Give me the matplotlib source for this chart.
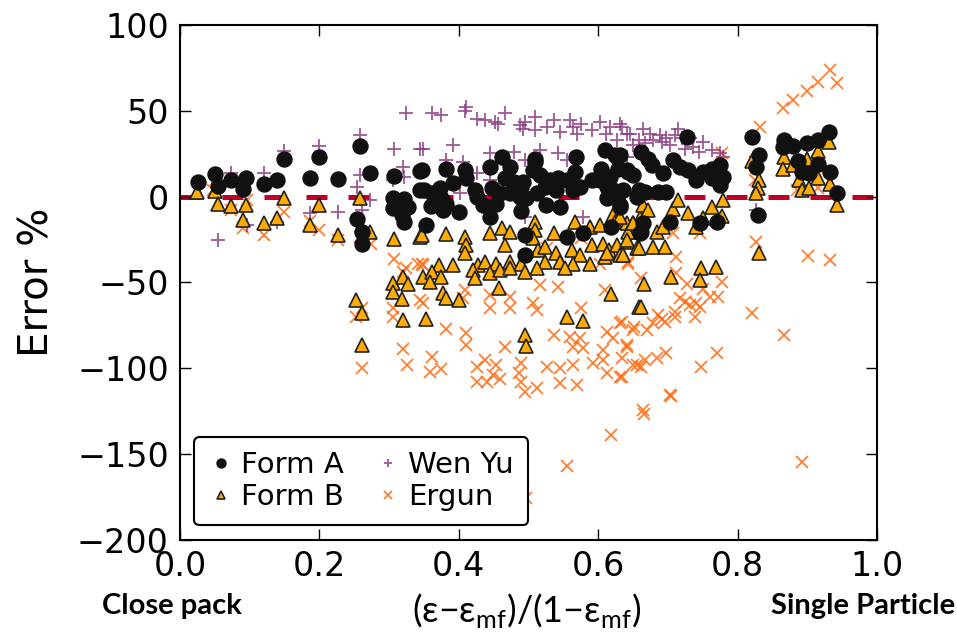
import matplotlib
matplotlib.use('Agg')
import matplotlib.pyplot as plt

# Form A (circles)
form_a_x = [0.026, 0.050, 0.054, 0.073, 0.095, 0.090, 0.121, 0.139, 0.149, 0.187, 0.200, 0.227, 0.258, 0.273,
            0.254, 0.261, 0.261, 0.307, 0.306, 0.321, 0.327, 0.305, 0.319, 0.321, 0.344, 0.344, 0.347, 0.382,
            0.409, 0.411, 0.392, 0.350, 0.373, 0.361, 0.375, 0.382, 0.360, 0.378, 0.401, 0.353, 0.423, 0.426,
            0.435, 0.445, 0.462, 0.473, 0.466, 0.447, 0.459, 0.454, 0.445, 0.479, 0.490, 0.492, 0.473, 0.488,
            0.497, 0.490, 0.509, 0.509, 0.506, 0.517, 0.512, 0.524, 0.525, 0.531, 0.543, 0.540, 0.545, 0.555,
            0.567, 0.562, 0.574, 0.564, 0.568, 0.591, 0.604, 0.610, 0.624, 0.627, 0.603, 0.607, 0.617, 0.612,
            0.622, 0.631, 0.629, 0.643, 0.650, 0.612, 0.631, 0.655, 0.495, 0.495, 0.555, 0.578, 0.619, 0.660,
            0.727, 0.821, 0.831, 0.827, 0.830, 0.867, 0.865, 0.880, 0.899, 0.915, 0.931, 0.887, 0.892, 0.903,
            0.916, 0.933, 0.942, 0.631, 0.641, 0.662, 0.672, 0.677, 0.693, 0.708, 0.717, 0.729, 0.741, 0.751,
            0.763, 0.775, 0.779, 0.763, 0.775, 0.636, 0.658, 0.667, 0.686, 0.698, 0.665, 0.662, 0.703, 0.746,
            0.770, 0.631]
form_a_y = [8.6, 13, 6.3, 9.6, 11, 4.5, 7.3, 9.6, 21.7, 11, 23.4, 10.2, 29.4, 13.5,
            -13, -20.3, -27.8, 12.1, -1, -1.5, -5.9, -6.5, -10.8, -15, 15, 3.8, 15.4, 16.4,
            15.4, 10.6, 8.1, 3.8, 4.8, 1.9, -1, -4, -5.4, -7.9, -8.8, -16.6, 3.8, 0,
            -5, 17.4, 23.2, 17.4, 10.6, 4.8, 1.9, -4, -12.1, 8.6, 5.7, 8.6, 1.9, 0,
            -1, -8.3, 22.2, 20.3, 15.4, 12.5, 1.9, 5.7, -5, 9.6, 10.6, 3.8, -6.3, 9.6,
            14.4, 8.6, 5.7, 3.8, 23.2, 9.6, 16, 27, 24.2, 23.2, 9.6, 10.6, 11.5, 5.7,
            3.8, 2.8, 16, 14.4, 12.5, -1, -5, 0, -22.4, -34, -23.4, -21, -17.6, -21.4,
            34.8, 34.5, 24.2, 17.4, -10.4, 33.3, 28.7, 29.4, 31.3, 32.9, 37.4, 20.9, 14.4, 13.9,
            19.3, 14.1, 1.9, 24.2, 15.4, 26.1, 22.2, 18.3, 13.5, 21.3, 17.4, 15.4, 9.6, 14.4,
            16.4, 18.3, 11.5, 10.6, 6.7, 3.8, 3.8, 2.8, 2.8, 2.8, -15.6, -20.5, -14.7, -15.6,
            -14.7, -5.9]

# Form B (triangles)
form_b_x = [0.025, 0.050, 0.054, 0.073, 0.095, 0.090, 0.121, 0.139, 0.149, 0.187, 0.200, 0.227, 0.258, 0.273,
            0.307, 0.344, 0.253, 0.261, 0.261, 0.306, 0.306, 0.320, 0.327, 0.319, 0.320, 0.347, 0.382, 0.409,
            0.411, 0.409, 0.445, 0.462, 0.473, 0.466, 0.509, 0.509, 0.507, 0.536, 0.514, 0.524, 0.540, 0.562,
            0.574, 0.567, 0.588, 0.603, 0.622, 0.624, 0.650, 0.646, 0.660, 0.591, 0.607, 0.615, 0.627, 0.634,
            0.643, 0.655, 0.371, 0.392, 0.428, 0.438, 0.454, 0.473, 0.490, 0.524, 0.545, 0.564, 0.588, 0.610,
            0.349, 0.361, 0.359, 0.375, 0.378, 0.382, 0.401, 0.353, 0.421, 0.423, 0.445, 0.459, 0.473, 0.495,
            0.512, 0.553, 0.612, 0.631, 0.458, 0.495, 0.497, 0.555, 0.578, 0.619, 0.658, 0.747, 0.769, 0.746,
            0.704, 0.666, 0.662, 0.831, 0.820, 0.831, 0.830, 0.827, 0.867, 0.865, 0.880, 0.899, 0.915, 0.931,
            0.888, 0.892, 0.903, 0.916, 0.933, 0.942, 0.665, 0.672, 0.708, 0.715, 0.729, 0.741, 0.751, 0.763,
            0.779, 0.777, 0.641, 0.643, 0.641, 0.658, 0.679, 0.684, 0.696, 0.650, 0.631, 0.636, 0.693]
form_b_y = [2.8, 3.4, -4, -5.4, -5, -13.7, -15.6, -12.3, -1, -16.6, -4.6, -22.4, -1, -20.5,
            -24.8, -23.4, -60.3, -68, -86.5, -50.5, -55.4, -46.8, -51, -59.7, -71.9, -22.4, -21.8, -23.4,
            -28.2, -33, -21.4, -18.5, -20.5, -28.2, -14.7, -19.5, -24.3, -21.4, -31.2, -29.2, -33, -31.2,
            -34, -14.7, -17.6, -16.6, -10.8, -14.7, -15.6, -20.5, -12.7, -28.2, -27.3, -31.2, -28.2, -33,
            -26.3, -30.2, -40, -40, -40, -38, -39, -38, -39, -38, -38, -39, -39, -35,
            -46.7, -43.8, -49.6, -46.7, -56, -59.3, -60.3, -71, -42.8, -47.6, -44.7, -42.8, -41.8, -43.8,
            -41.8, -41.8, -33, -34, -53.5, -80.7, -87, -70, -72.3, -57, -64, -41.8, -40.9, -48.6,
            -47, -50.6, -64.2, -32.7, 20.9, 9.6, 4.8, 1.9, 23.2, 16.4, 18.3, 22.2, 26.5, 31.9,
            10, 3.8, 4.8, 10.6, 7.3, -5, -5, -7.9, -6.9, -2, -9.8, -17.6, -12.7, -5.9,
            -2, -11.4, -15.6, -20.5, -25.3, -30.2, -29.2, -20.5, -29.2, -15.6, -11.8, -34, -17.6]

# Wen Yu (plus)
wen_yu_x = [0.054, 0.073, 0.096, 0.121, 0.149, 0.139, 0.187, 0.200, 0.227, 0.258, 0.258, 0.254, 0.261, 0.273,
            0.307, 0.325, 0.320, 0.321, 0.306, 0.344, 0.361, 0.375, 0.411, 0.409, 0.426, 0.438, 0.452, 0.457,
            0.466, 0.488, 0.495, 0.492, 0.509, 0.509, 0.526, 0.536, 0.545, 0.560, 0.564, 0.569, 0.576, 0.591,
            0.603, 0.611, 0.617, 0.627, 0.631, 0.646, 0.650, 0.349, 0.392, 0.382, 0.406, 0.426, 0.445, 0.479,
            0.495, 0.517, 0.543, 0.555, 0.445, 0.402, 0.495, 0.578, 0.641, 0.634, 0.641, 0.658, 0.665, 0.667,
            0.674, 0.679, 0.689, 0.691, 0.698, 0.703, 0.710, 0.715, 0.720, 0.725, 0.732, 0.736, 0.744, 0.751,
            0.763, 0.775, 0.779, 0.827]
wen_yu_y = [-25, 13.5, -16.6, 13.5, 26.5, -14.7, -9.8, 29.6, -9.2, 35.8, 12.9, 5.7, -7.9, -2,
            27.5, 48.5, 17.4, 11.2, 9.6, 28, 48.5, 47.5, 52.3, 50, 45, 44.6, 43.6, 42.6,
            48.5, 41.6, 43.6, 39.7, 38.7, 46.5, 40.7, 44.6, 37.7, 44.6, 40.7, 36.8, 42.6, 38.7,
            43.6, 36.8, 40.7, 32.9, 42.6, 36.8, 30, 28, 30, 21.3, 20.3, 13.5, 25.2, 26.1,
            21.3, 27, 25.2, 21.3, 9.6, 1.9, -11.8, -11.8, 23.2, 40.7, 36.8, 32.9, 39.7, 31,
            36.8, 32.9, 35.8, 31.9, 33.9, 30, 35.8, 39.7, 33.9, 28, 33.9, 29, 26.1, 31.9,
            27, 25.2, 23.2, -7.9]

# Ergun (x)
ergun_x = [0.048, 0.073, 0.096, 0.091, 0.121, 0.150, 0.187, 0.200, 0.227, 0.258, 0.274, 0.307, 0.325, 0.342,
           0.253, 0.261, 0.261, 0.306, 0.305, 0.320, 0.326, 0.320, 0.344, 0.349, 0.349, 0.382, 0.409, 0.406,
           0.411, 0.411, 0.361, 0.359, 0.375, 0.445, 0.445, 0.473, 0.473, 0.466, 0.426, 0.438, 0.454, 0.449,
           0.459, 0.426, 0.440, 0.486, 0.490, 0.495, 0.512, 0.490, 0.506, 0.512, 0.517, 0.543, 0.536, 0.560,
           0.564, 0.574, 0.578, 0.576, 0.526, 0.545, 0.564, 0.593, 0.607, 0.612, 0.622, 0.631, 0.607, 0.612,
           0.631, 0.650, 0.650, 0.641, 0.545, 0.569, 0.610, 0.901, 0.933, 0.820, 0.867, 0.643, 0.712, 0.661,
           0.712, 0.727, 0.751, 0.777, 0.772, 0.760, 0.717, 0.724, 0.732, 0.741, 0.746, 0.710, 0.710, 0.739,
           0.686, 0.691, 0.696, 0.679, 0.670, 0.651, 0.641, 0.634, 0.634, 0.698, 0.684, 0.667, 0.655, 0.662,
           0.770, 0.747, 0.703, 0.665, 0.634, 0.704, 0.666, 0.619, 0.555, 0.497, 0.892, 0.832, 0.865, 0.880,
           0.899, 0.915, 0.932, 0.942, 0.825, 0.827, 0.885, 0.916, 0.825, 0.708, 0.746, 0.777, 0.347, 0.526,
           0.576, 0.643, 0.603]
ergun_y = [3.8, -7.9, -2, -18, -22.4, -9.2, -14, -19.5, -25.3, -23.4, -27.7, -36.6, -41.8, -39,
           -70, -65, -100, -65, -70, -89, -98, -43.8, -60, -40, -62, -77, -54.5, -59.3,
           -79.7, -86.5, -93.3, -102, -100.6, -57.4, -65, -58.3, -65, -87.5, -99, -95, -98, -104,
           -106, -108, -108, -103, -108, -113.7, -111.7, -97, -62, -66, -51.5, -52.5, -80.7, -81.6,
           -87.5, -82.6, -88.4, -65, -99, -100, -98, -97, -89.4, -78.7, -82.6, -73.8, -95.2, -103,
           -105, -77.7, -98, -87.5, -108.8, -109.8, -54.5, -34.7, -37, -68, -80.7, -39, -35.4, -47.6,
           -44.7, -50.6, -54, -50, -58.3, -58.3, -59.3, -61.3, -63.2, -62.2, -64.2, -67, -70, -70,
           -69, -71, -73, -73.8, -77.7, -75.8, -86.5, -73, -94.2, -91.3, -94.2, -95.2, -98, -99,
           -91.3, -99, -115.6, -124.4, -105, -116, -126.7, -139, -156.8, -175.8, -154.5, 40.3, 51.4, 56.6,
           61.6, 66.9, 73.7, 66.5, 20.3, -26.3, 3.8, 4.8, 9.6, -21.4, -21.4, 25.2, -39, -30,
           -24.3, -38, -39]

fig = plt.figure(figsize=(9.57, 6.42), dpi=100)
ax = fig.add_axes([0.188, 0.159, 0.7284, 0.802])

ax.plot([0, 1], [0, 0], color='#c00028', lw=3.6, dashes=(4.2, 4.2), zorder=1)

ax.plot(ergun_x, ergun_y, 'x', color='#ff6a10', ms=9, mew=1.3, alpha=0.85, label='Ergun', zorder=2)
ax.plot(wen_yu_x, wen_yu_y, '+', color='#8a3c82', ms=10, mew=1.3, alpha=0.85, label='Wen Yu', zorder=2)
ax.plot(form_b_x, form_b_y, '^', color='#ffab00', mec='#222222', mew=1.2, ms=9.5, label='Form B', zorder=3)
ax.plot(form_a_x, form_a_y, 'o', color='#111111', mec='#111111', ms=10.8, label='Form A', zorder=4)

ax.set_xlim(0, 1)
ax.set_ylim(-200, 100)
ax.set_xticks([0, 0.2, 0.4, 0.6, 0.8, 1.0])
ax.set_yticks([-200, -150, -100, -50, 0, 50, 100])
ax.tick_params(direction='in', top=True, right=True, length=8, width=1, labelsize=24)
ax.tick_params(axis='x', pad=7)
ax.tick_params(axis='y', pad=8)
for s in ax.spines.values():
    s.set_linewidth(1.5)

ax.set_ylabel('Error %', fontsize=29, labelpad=14)

handles, labels = ax.get_legend_handles_labels()
order = [3, 2, 1, 0]
leg = ax.legend([handles[i] for i in order], [labels[i] for i in order], loc='lower left', ncol=2,
                fontsize=21, markerscale=0.6, handlelength=0.8, handletextpad=0.3, columnspacing=1.1,
                labelspacing=0.12, borderpad=0.5, fancybox=True, framealpha=1, edgecolor='black')
leg.get_frame().set_linewidth(1.5)

plt.rcParams['mathtext.fontset'] = 'custom'
plt.rcParams['mathtext.rm'] = 'Lato'
fig.text(0.55, 1 - 611 / 642, r'(ε−ε$_{\mathrm{mf}}$)/(1−ε$_{\mathrm{mf}}$)', ha='center', va='center',
         fontsize=26, family=['Lato', 'DejaVu Sans'])
fig.text(172 / 957, 1 - 606 / 642, 'Close pack', ha='center', va='center', fontsize=21, fontweight='bold',
         family=['Lato', 'DejaVu Sans'])
fig.text(955 / 957, 1 - 606 / 642, 'Single Particle', ha='right', va='center', fontsize=21,
         fontweight='bold', family=['Lato', 'DejaVu Sans'])

fig.savefig('out.png', dpi=100)
